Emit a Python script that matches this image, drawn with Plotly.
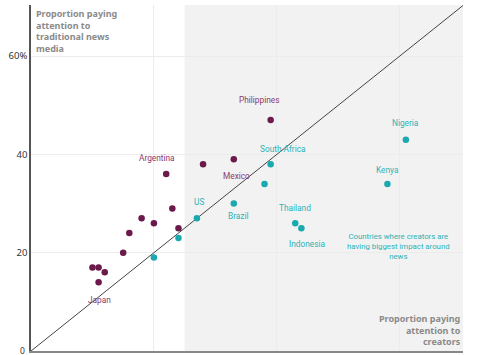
import plotly.graph_objects as go

# Data: (creators %, traditional news %)
creators_x = [28, 22, 23, 18, 20, 24, 16, 15, 10, 11, 12, 11, 39, 33,
              27, 24, 20, 39, 38, 33, 43, 44, 61, 58]
news_y = [38, 36, 29, 27, 26, 25, 24, 20, 17, 17, 16, 14, 47, 39,
          27, 23, 19, 38, 34, 30, 26, 25, 43, 34]
group = ["trad"] * 14 + ["creator"] * 10
countries = ["", "Argentina", "", "", "", "", "", "", "", "", "", "Japan", "Philippines", "Mexico",
             "US", "", "", "South Africa", "", "Brazil", "Thailand", "Indonesia", "Nigeria", "Kenya"]

diag = [0, 70.3]
shade_from = 25
ytick_vals = [20, 40, 60]
ytick_text = ["20", "40", "60%"]
zero_label = "0"
xtick_vals = [20, 40, 60]

PURPLE = "#6b1a4b"
TEAL = "#1aa9ae"
PURPLE_LBL = "#8a3a6f"
TEAL_LBL = "#2bb3b8"
FONT = "Noto Sans"
LBL_FONT = "Roboto"

label_offsets = {
    "Argentina": (-9, 16), "Mexico": (3, -17), "Philippines": (-12, 20), "Japan": (1, -18),
    "US": (2, 16), "Brazil": (4, -12), "South Africa": (12, 15), "Thailand": (0, 15),
    "Indonesia": (6, -16), "Nigeria": (0, 17), "Kenya": (0, 14),
}

fig = go.Figure()

fig.add_shape(type="rect", xref="x", yref="paper", x0=shade_from, x1=diag[1], y0=0, y1=1,
              fillcolor="#f2f2f2", line_width=0, layer="below")

fig.add_trace(go.Scatter(x=diag, y=diag, mode="lines",
                         line=dict(color="#444444", width=1), hoverinfo="skip", showlegend=False))

for g, col in (("trad", PURPLE), ("creator", TEAL)):
    xs = [x for x, gg in zip(creators_x, group) if gg == g]
    ys = [y for y, gg in zip(news_y, group) if gg == g]
    fig.add_trace(go.Scatter(x=xs, y=ys, mode="markers",
                             marker=dict(color=col, size=6.5, line_width=0), showlegend=False))

for x, y, g, name in zip(creators_x, news_y, group, countries):
    if not name:
        continue
    dx, dy = label_offsets[name]
    fig.add_annotation(x=x, y=y, text=name, showarrow=False, xshift=dx, yshift=dy,
                       font=dict(family=LBL_FONT, size=8.3, color=PURPLE_LBL if g == "trad" else TEAL_LBL))

fig.add_annotation(x=59.8, y=21.3, text="Countries where creators are<br>having biggest impact around<br>news",
                   showarrow=False, align="center",
                   font=dict(family=LBL_FONT, size=7.8, color=TEAL_LBL))

fig.add_annotation(xref="paper", yref="paper", x=0.008, y=1.0, xanchor="left", yanchor="top",
                   text="<b>Proportion paying<br>attention to<br>traditional news<br>media</b>",
                   showarrow=False, align="left",
                   font=dict(family=FONT, size=9, color="#8a8a8a"))

fig.add_annotation(xref="paper", yref="paper", x=1.0, y=0.0, xanchor="right", yanchor="bottom",
                   yshift=1,
                   text="<b>Proportion paying<br>attention to<br>creators</b>",
                   showarrow=False, align="right",
                   font=dict(family=FONT, size=9, color="#8a8a8a"))

fig.add_annotation(xref="paper", yref="y", x=0, y=0, xanchor="right", yanchor="middle",
                   xshift=-4, yshift=1, text=zero_label, showarrow=False,
                   font=dict(family=FONT, size=8.5, color="#333333"))

fig.update_layout(
    width=480, height=355,
    margin=dict(l=31, r=17, t=5, b=4),
    paper_bgcolor="white", plot_bgcolor="white",
    font=dict(family=FONT, size=10, color="#333333"),
    xaxis=dict(range=[0, diag[1]], tickvals=xtick_vals, showticklabels=False, automargin=False,
               showgrid=True, gridcolor="#ececec", gridwidth=1, zeroline=False,
               showline=True, linecolor="#888888", linewidth=1.5, ticks=""),
    yaxis=dict(range=[0, 70.4], tickvals=ytick_vals, ticktext=ytick_text, automargin=False,
               showgrid=True, gridcolor="#ececec", gridwidth=1, zeroline=False,
               showline=True, linecolor="#555555", linewidth=1.5, ticks="",
               tickfont=dict(family=FONT, size=9.5, color="#333333")),
)

fig.write_html("out.html", config={"displayModeBar": False},
               post_script="document.body.style.margin='0';document.body.style.overflow='hidden';")
